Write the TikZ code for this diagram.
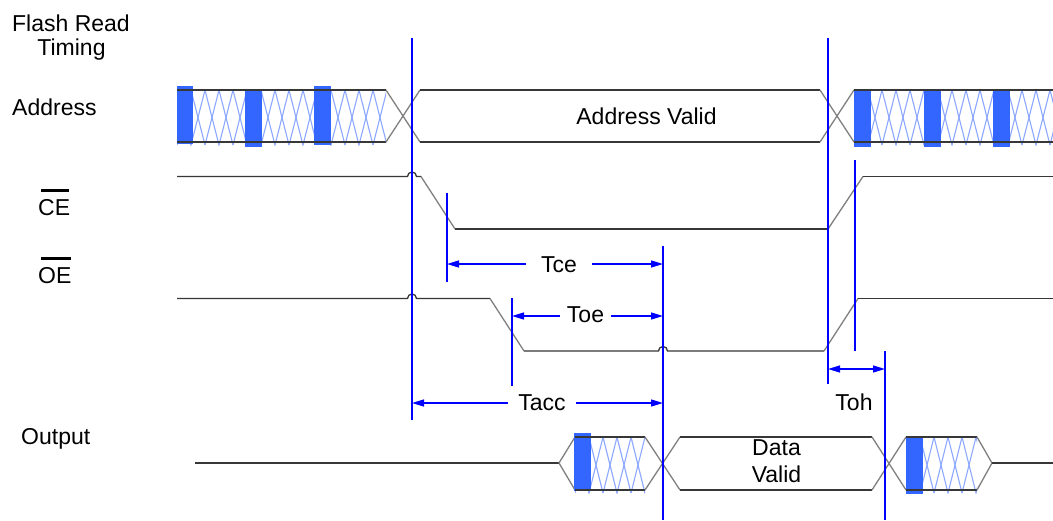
\documentclass[tikz,border=0pt]{standalone}
\usepackage{fontspec}
\setmainfont{Liberation Sans}
\usetikzlibrary{arrows.meta}

\definecolor{sigline}{RGB}{55,55,55}
\definecolor{edgegray}{RGB}{128,128,128}
\definecolor{hatchblue}{RGB}{140,168,255}
\definecolor{blockblue}{RGB}{51,102,255}
\definecolor{markblue}{RGB}{0,0,255}

\tikzset{
  sig/.style={draw=sigline, line width=1.3pt},
  edge/.style={draw=edgegray, line width=1.3pt},
  hatch/.style={draw=hatchblue, line width=1.1pt},
  block/.style={fill=blockblue},
  marker/.style={draw=markblue, line width=1.4pt},
  dim/.style={draw=markblue, line width=1.3pt, -{Triangle[length=12pt,width=7pt]}},
  dimboth/.style={draw=markblue, line width=1.3pt, {Triangle[length=12pt,width=7pt]}-{Triangle[length=12pt,width=7pt]}},
  lbl/.style={font=\fontsize{23}{27}\selectfont, inner sep=0pt},
  overbar/.style={draw=black, line width=2.6pt},
}

% don't-care region: two interleaved zigzags clipped to the bus
\newcommand{\hatchfill}[4]{%
  \begin{scope}
    \clip (#1,#3-1) rectangle (#2,#4+3);
    \foreach \k in {0,...,8}{
      \pgfmathsetmacro{\xa}{#1+28*\k}
      \draw[hatch] (\xa,#3) -- (\xa+14,#4+3) -- (\xa+28,#3);
      \draw[hatch] (\xa,#4+3) -- (\xa+14,#3) -- (\xa+28,#4+3);
    }
  \end{scope}}

\begin{document}
\begin{tikzpicture}[x=1pt,y=-1pt]
\fill[white] (0,0) rectangle (1053,520);
\useasboundingbox (0,0) rectangle (1053,520);

% ---------- signal names ----------
\node[lbl, anchor=base] (title1) at (71,31.5) {Flash Read};
\node[lbl, anchor=base] (title2) at (71.5,55.5) {Timing};
\node[lbl, anchor=base west] (addrname) at (12,115.5) {Address};
\node[lbl, anchor=base west] (cename) at (38,215) {CE};
\node[lbl, anchor=base west] (oename) at (38,283) {OE};
\node[lbl, anchor=base west] (outname) at (21,444) {Output};
\draw[overbar] ([xshift=3pt,yshift=8.5pt]cename.north west) -- ([xshift=-1pt,yshift=8.5pt]cename.north east);
\draw[overbar] ([xshift=3pt,yshift=8.5pt]oename.north west) -- ([xshift=-1pt,yshift=8.5pt]oename.north east);

% ---------- address bus ----------
\hatchfill{177}{386}{90}{142}
\fill[block] (177,86) rectangle (193,144);
\fill[block] (245,89) rectangle (262,147);
\fill[block] (314,86) rectangle (331,145);
\draw[sig] (177,90) -- (386,90) (177,142) -- (386,142);
\draw[edge] (386,90) -- (420,142) (386,142) -- (420,90);
\draw[sig] (420,90) -- (820,90) (420,142) -- (820,142);
\draw[edge] (820,90) -- (854,142) (820,142) -- (854,90);
\hatchfill{854}{1053}{90}{142}
\fill[block] (854,89) rectangle (871,147);
\fill[block] (924,89) rectangle (941,147);
\fill[block] (993,89) rectangle (1010,147);
\draw[sig] (854,90) -- (1053,90) (854,142) -- (1053,142);
\node[lbl, anchor=base] (addrvalid) at (646.5,124) {Address Valid};

% ---------- CE ----------
\draw[sig] (177,176.5) -- (407.5,176.5) arc[start angle=180, end angle=360, radius=4.5]
  -- (421,176.5);
\draw[edge] (421,176.5) -- (455,229);
\draw[sig] (455,229) -- (828,229);
\draw[edge] (828,229) -- (863,176.5);
\draw[sig] (863,176.5) -- (1053,176.5);

% ---------- OE ----------
\draw[sig] (177,298.5) -- (407.5,298.5) arc[start angle=180, end angle=360, radius=4.5]
  -- (490,298.5);
\draw[edge] (490,298.5) -- (524,351);
\draw[sig] (524,351) -- (658.5,351) arc[start angle=180, end angle=360, radius=4.5]
  -- (824,351);
\draw[edge] (824,351) -- (858,298.5);
\draw[sig] (858,298.5) -- (1053,298.5);

% ---------- output bus ----------
\draw[sig] (195,463) -- (559,463);
\draw[edge] (559,463) -- (575,437) (559,463) -- (575,490);
\hatchfill{575}{645}{437}{490}
\fill[block] (574,433) rectangle (591,491);
\draw[sig] (575,437) -- (645,437) (575,490) -- (645,490);
\draw[edge] (645,437) -- (680,490) (645,490) -- (680,437);
\draw[sig] (680,437) -- (872,437) (680,490) -- (872,490);
\draw[edge] (872,437) -- (906,490) (872,490) -- (906,437);
\hatchfill{906}{977}{437}{490}
\fill[block] (906,436) rectangle (923,494);
\draw[sig] (906,437) -- (977,437) (906,490) -- (977,490);
\draw[edge] (977,437) -- (992,463) (977,490) -- (992,463);
\draw[sig] (992,463) -- (1053,463);
\node[lbl, anchor=base] (data1) at (776.5,455) {Data};
\node[lbl, anchor=base] (data2) at (776.5,482) {Valid};

% ---------- timing markers ----------
\coordinate (mA1) at (412,38);  \coordinate (mA2) at (412,420);
\coordinate (mB1) at (828,38);  \coordinate (mB2) at (828,384);
\coordinate (mC1) at (447,193); \coordinate (mC2) at (447,282);
\coordinate (mD1) at (512,298); \coordinate (mD2) at (512,386);
\coordinate (mE1) at (663,246); \coordinate (mE2) at (663,520);
\coordinate (mF1) at (855,160); \coordinate (mF2) at (855,351);
\coordinate (mG1) at (885,351); \coordinate (mG2) at (885,520);
\foreach \m in {A,B,C,D,E,F,G}{\draw[marker] (m\m1) -- (m\m2);}

% ---------- dimensions ----------
\coordinate (tceL) at (447,264);  \coordinate (tceR) at (663,264);
\coordinate (toeL) at (512,316);  \coordinate (toeR) at (663,316);
\coordinate (taccL) at (412,403); \coordinate (taccR) at (663,403);
\coordinate (tohL) at (828,369);  \coordinate (tohR) at (885,369);

\node[lbl, anchor=base, inner xsep=15pt] (tce) at (559,272) {Tce};
\draw[dim] (tce.west |- tceL) -- (tceL);
\draw[dim] (tce.east |- tceR) -- (tceR);

\node[lbl, anchor=base, inner xsep=7pt] (toe) at (585.5,322) {Toe};
\draw[dim] (toe.west |- toeL) -- (toeL);
\draw[dim] (toe.east |- toeR) -- (toeR);

\node[lbl, anchor=base, inner xsep=10pt] (tacc) at (542,410) {Tacc};
\draw[dim] (tacc.west |- taccL) -- (taccL);
\draw[dim] (tacc.east |- taccR) -- (taccR);

\draw[dimboth] (tohL) -- (tohR);
\node[lbl, anchor=base] (toh) at (854,410) {Toh};
\end{tikzpicture}
\end{document}
